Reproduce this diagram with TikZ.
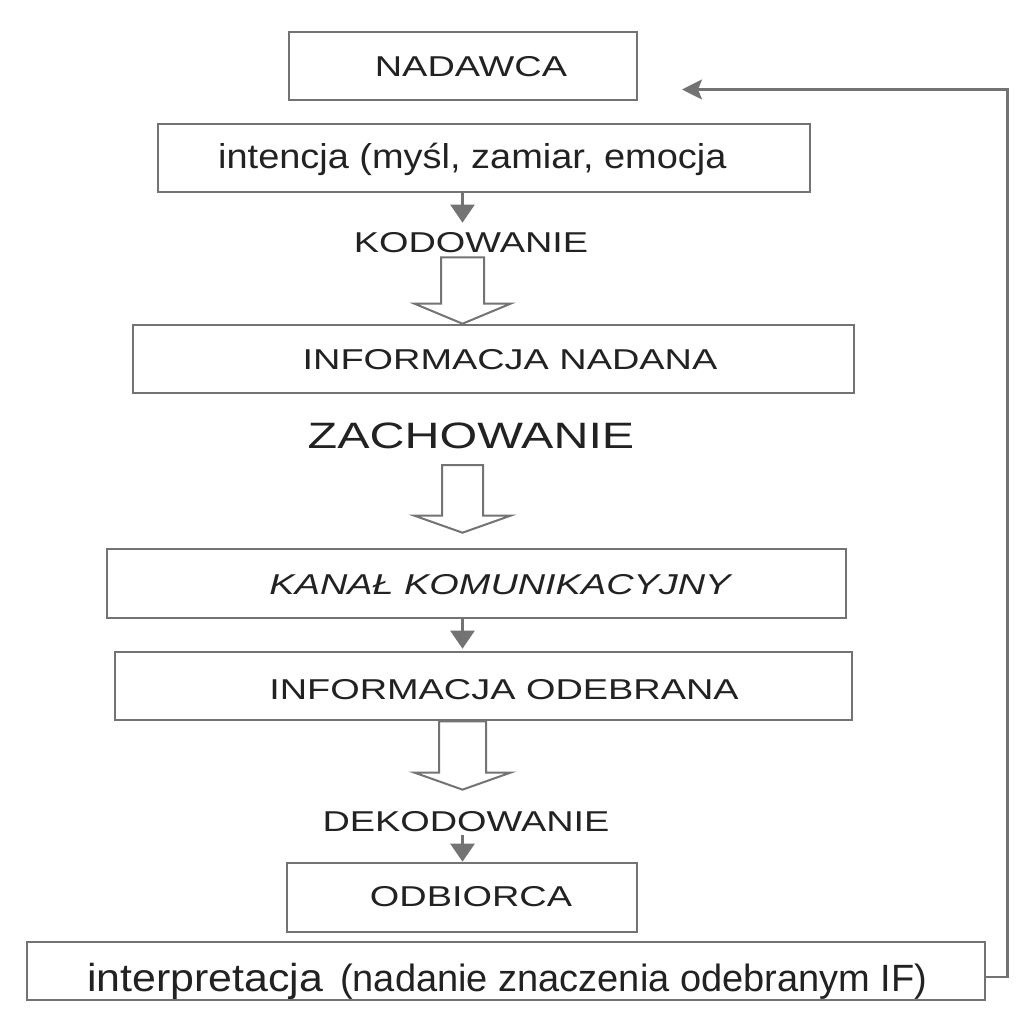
\documentclass[tikz,border=0pt]{standalone}
\usepackage{fontspec}
\setmainfont{Liberation Sans}
\newfontfamily\capsfont[FakeStretch=1.32]{Liberation Sans}
\newfontfamily\lowfont[FakeStretch=1.1]{Liberation Sans}
\usetikzlibrary{arrows.meta,calc}
\definecolor{linegray}{HTML}{737373}
\definecolor{txtcol}{HTML}{222222}
\newcommand{\blockarr}[4]{%
  \draw[hollowarr] let \p1=(#1), \p2=(#2) in
    (\x2-#3,\y1) -- (\x2-#3,\y2+#4) -- (\x2-48pt,\y2+#4) -- (\x2,\y2)
    -- (\x2+48pt,\y2+#4) -- (\x2+#3,\y2+#4) -- (\x2+#3,\y1) -- cycle;}
\begin{document}
\begin{tikzpicture}[x=1pt,y=-1pt,
  box/.style={draw=linegray, line width=2.6pt, inner sep=0pt, fill=none},
  capstxt/.style={inner sep=0pt, text=txtcol, font=\capsfont\fontsize{28.7}{30}\selectfont},
  lowtxt/.style={inner sep=0pt, text=txtcol, font=\lowfont\fontsize{34.5}{36}\selectfont},
  smallarr/.style={draw=linegray, line width=2.4pt, -{Triangle[length=18pt,width=24pt]}},
  hollowarr/.style={draw=linegray, line width=2pt, fill=white, line join=miter},
  fbarr/.style={draw=linegray, line width=2.6pt, -{Stealth[length=20pt,width=20pt,inset=4pt]}}]
\fill[white] (0,0) rectangle (1016,1010);
\useasboundingbox (0,0) rectangle (1016,1010);
\coordinate (ax) at (462.5,0);
% boxes and texts
\node[box, minimum width=348pt, minimum height=68pt] (nadB) at (463,66) {};
\node[capstxt] (nadT) at (471,67) {NADAWCA};
\node[box, minimum width=652pt, minimum height=68pt] (intB) at (484,158) {};
\node[lowtxt, anchor=base west] (intT) at (218,168) {intencja (myśl, zamiar, emocja};
\node[capstxt] (kodT) at (471,243) {KODOWANIE};
\node[box, minimum width=721pt, minimum height=68pt] (nadanaB) at (493.5,359) {};
\node[capstxt] (nadanaT) at (510,360) {INFORMACJA NADANA};
\node[capstxt, font=\capsfont\fontsize{36.7}{38}\selectfont] (zachT) at (471,436) {ZACHOWANIE};
\node[box, minimum width=739pt, minimum height=69pt] (kanalB) at (476.5,583.5) {};
\node[capstxt, font=\capsfont\itshape\fontsize{28.7}{30}\selectfont] (kanalT) at (500,585) {KANAŁ KOMUNIKACYJNY};
\node[box, minimum width=737pt, minimum height=68pt] (odebrB) at (483.5,686) {};
\node[capstxt] (odebrT) at (504,690) {INFORMACJA ODEBRANA};
\node[capstxt] (dekT) at (466,822) {DEKODOWANIE};
\node[box, minimum width=350pt, minimum height=69pt] (odbB) at (462,897.5) {};
\node[capstxt] (odbT) at (471,897) {ODBIORCA};
\node[box, minimum width=958pt, minimum height=58pt] (interpB) at (506,971) {};
\node[lowtxt, font=\lowfont\fontsize{39}{40}\selectfont, anchor=base west] (interpT1) at (87,991) {interpretacja};
\node[lowtxt, font=\fontsize{38}{40}\selectfont, anchor=base west] (interpT2) at (340,991) {(nadanie znaczenia odebranym IF)};
% small arrows
\draw[smallarr] (intB.south -| ax) -- ($(kodT.north -| ax)+(0,-10)$);
\draw[smallarr] (kanalB.south -| ax) -- ($(odebrB.north -| ax)+(0,-2)$);
\draw[smallarr] ($(dekT.south -| ax)+(0,3)$) -- (odbB.north -| ax);
% block arrows
\blockarr{$(kodT.south)+(0,4)$}{nadanaB.north -| ax}{21.5pt}{20pt}
\blockarr{$(zachT.south)+(0,16)$}{$(kanalB.north -| ax)+(0,-15)$}{20.5pt}{17pt}
\blockarr{odebrB.south -| ax}{$(dekT.north -| ax)+(0,-22)$}{23.5pt}{17pt}
% feedback
\coordinate (fbtip) at (682,89.5);
\draw[fbarr] ($(interpB.east)+(0,6)$) -- ++(21,0) |- (fbtip);
\end{tikzpicture}
\end{document}
